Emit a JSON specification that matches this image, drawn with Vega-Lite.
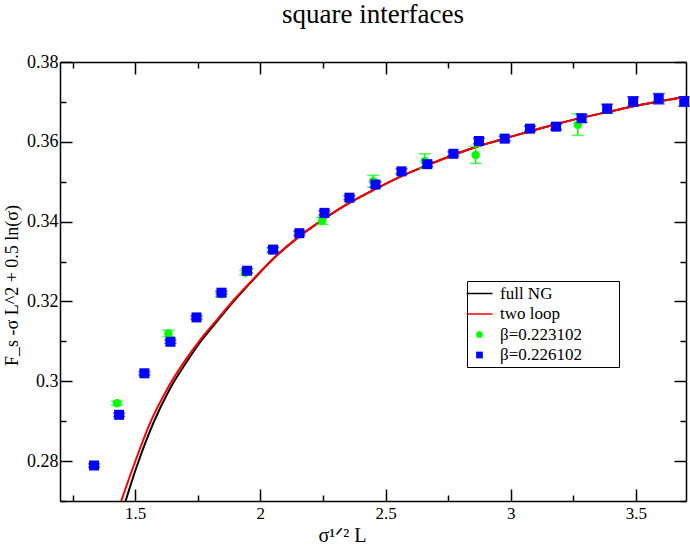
{
  "$schema": "https://vega.github.io/schema/vega-lite/v6.json",
  "autosize": {"type": "none"},
  "padding": {"left": 60, "top": 62, "right": 4, "bottom": 44},
  "width": 626,
  "height": 439,
  "title": {
    "text": "square interfaces",
    "font": "Liberation Serif",
    "fontSize": 27,
    "fontWeight": "normal",
    "color": "black",
    "anchor": "middle",
    "baseline": "bottom",
    "offset": 6,
    "dy": 9
  },
  "config": {
    "font": "Liberation Serif",
    "view": {"stroke": null},
    "axis": {
      "grid": false,
      "domainColor": "black",
      "domainWidth": 1.5,
      "tickColor": "black",
      "tickWidth": 1.5,
      "labelFont": "Liberation Serif",
      "labelColor": "black",
      "labelOverlap": false,
      "labelFlush": false,
      "titleFont": "Liberation Serif",
      "titleColor": "black",
      "titleFontWeight": "normal"
    }
  },
  "datasets": {
    "curves": [
      {"series": "full NG", "x": 1.462, "y": 0.2700},
      {"series": "full NG", "x": 1.5067, "y": 0.2787},
      {"series": "full NG", "x": 1.573, "y": 0.2896},
      {"series": "full NG", "x": 1.637, "y": 0.2979},
      {"series": "full NG", "x": 1.703, "y": 0.3046},
      {"series": "full NG", "x": 1.767, "y": 0.3104},
      {"series": "full NG", "x": 1.832, "y": 0.3154},
      {"series": "full NG", "x": 1.897, "y": 0.3203},
      {"series": "full NG", "x": 1.962, "y": 0.3248},
      {"series": "full NG", "x": 2.06, "y": 0.3312},
      {"series": "full NG", "x": 2.16, "y": 0.3365},
      {"series": "full NG", "x": 2.25, "y": 0.3405},
      {"series": "full NG", "x": 2.35, "y": 0.3445},
      {"series": "full NG", "x": 2.46, "y": 0.3482},
      {"series": "full NG", "x": 2.56, "y": 0.3513},
      {"series": "full NG", "x": 2.67, "y": 0.3542},
      {"series": "full NG", "x": 2.77, "y": 0.3567},
      {"series": "full NG", "x": 2.87, "y": 0.3589},
      {"series": "full NG", "x": 2.98, "y": 0.3609},
      {"series": "full NG", "x": 3.08, "y": 0.3627},
      {"series": "full NG", "x": 3.18, "y": 0.3644},
      {"series": "full NG", "x": 3.28, "y": 0.3660},
      {"series": "full NG", "x": 3.39, "y": 0.3675},
      {"series": "full NG", "x": 3.49, "y": 0.3689},
      {"series": "full NG", "x": 3.59, "y": 0.3701},
      {"series": "full NG", "x": 3.70, "y": 0.3713},
      {"series": "two loop", "x": 1.4445, "y": 0.2700},
      {"series": "two loop", "x": 1.4933, "y": 0.2787},
      {"series": "two loop", "x": 1.56, "y": 0.2896},
      {"series": "two loop", "x": 1.6267, "y": 0.2979},
      {"series": "two loop", "x": 1.693, "y": 0.3046},
      {"series": "two loop", "x": 1.76, "y": 0.3104},
      {"series": "two loop", "x": 1.8267, "y": 0.3154},
      {"series": "two loop", "x": 1.893, "y": 0.3203},
      {"series": "two loop", "x": 1.96, "y": 0.3248},
      {"series": "two loop", "x": 2.06, "y": 0.3312},
      {"series": "two loop", "x": 2.16, "y": 0.3365},
      {"series": "two loop", "x": 2.25, "y": 0.3405},
      {"series": "two loop", "x": 2.35, "y": 0.3445},
      {"series": "two loop", "x": 2.46, "y": 0.3482},
      {"series": "two loop", "x": 2.56, "y": 0.3513},
      {"series": "two loop", "x": 2.67, "y": 0.3542},
      {"series": "two loop", "x": 2.77, "y": 0.3567},
      {"series": "two loop", "x": 2.87, "y": 0.3589},
      {"series": "two loop", "x": 2.98, "y": 0.3609},
      {"series": "two loop", "x": 3.08, "y": 0.3627},
      {"series": "two loop", "x": 3.18, "y": 0.3644},
      {"series": "two loop", "x": 3.28, "y": 0.3660},
      {"series": "two loop", "x": 3.39, "y": 0.3675},
      {"series": "two loop", "x": 3.49, "y": 0.3689},
      {"series": "two loop", "x": 3.59, "y": 0.3701},
      {"series": "two loop", "x": 3.70, "y": 0.3713}
    ],
    "points": [
      {"series": "β=0.223102", "x": 1.428, "y": 0.2945, "lo": 0.2940, "hi": 0.2950},
      {"series": "β=0.223102", "x": 1.633, "y": 0.3120, "lo": 0.3112, "hi": 0.3128},
      {"series": "β=0.223102", "x": 1.843, "y": 0.3218, "lo": 0.3212, "hi": 0.3224},
      {"series": "β=0.223102", "x": 1.940, "y": 0.3272, "lo": 0.3266, "hi": 0.3278},
      {"series": "β=0.223102", "x": 2.047, "y": 0.3328, "lo": 0.3322, "hi": 0.3334},
      {"series": "β=0.223102", "x": 2.247, "y": 0.3402, "lo": 0.3393, "hi": 0.3411},
      {"series": "β=0.223102", "x": 2.451, "y": 0.3501, "lo": 0.3486, "hi": 0.3516},
      {"series": "β=0.223102", "x": 2.657, "y": 0.3552, "lo": 0.3534, "hi": 0.3570},
      {"series": "β=0.223102", "x": 2.860, "y": 0.3567, "lo": 0.3546, "hi": 0.3588},
      {"series": "β=0.223102", "x": 3.268, "y": 0.3643, "lo": 0.3616, "hi": 0.3670},
      {"series": "β=0.226102", "x": 1.336, "y": 0.2789, "lo": 0.2785, "hi": 0.2793},
      {"series": "β=0.226102", "x": 1.436, "y": 0.2916, "lo": 0.2912, "hi": 0.2920},
      {"series": "β=0.226102", "x": 1.537, "y": 0.3020, "lo": 0.3016, "hi": 0.3024},
      {"series": "β=0.226102", "x": 1.641, "y": 0.3099, "lo": 0.3095, "hi": 0.3103},
      {"series": "β=0.226102", "x": 1.745, "y": 0.3160, "lo": 0.3156, "hi": 0.3164},
      {"series": "β=0.226102", "x": 1.845, "y": 0.3222, "lo": 0.3218, "hi": 0.3226},
      {"series": "β=0.226102", "x": 1.947, "y": 0.3277, "lo": 0.3272, "hi": 0.3282},
      {"series": "β=0.226102", "x": 2.051, "y": 0.3330, "lo": 0.3325, "hi": 0.3335},
      {"series": "β=0.226102", "x": 2.156, "y": 0.3371, "lo": 0.3366, "hi": 0.3376},
      {"series": "β=0.226102", "x": 2.256, "y": 0.3422, "lo": 0.3417, "hi": 0.3427},
      {"series": "β=0.226102", "x": 2.356, "y": 0.3460, "lo": 0.3455, "hi": 0.3465},
      {"series": "β=0.226102", "x": 2.460, "y": 0.3493, "lo": 0.3487, "hi": 0.3499},
      {"series": "β=0.226102", "x": 2.564, "y": 0.3526, "lo": 0.3520, "hi": 0.3532},
      {"series": "β=0.226102", "x": 2.667, "y": 0.3544, "lo": 0.3538, "hi": 0.3550},
      {"series": "β=0.226102", "x": 2.771, "y": 0.3570, "lo": 0.3565, "hi": 0.3575},
      {"series": "β=0.226102", "x": 2.873, "y": 0.3602, "lo": 0.3595, "hi": 0.3609},
      {"series": "β=0.226102", "x": 2.976, "y": 0.3608, "lo": 0.3602, "hi": 0.3614},
      {"series": "β=0.226102", "x": 3.077, "y": 0.3633, "lo": 0.3627, "hi": 0.3639},
      {"series": "β=0.226102", "x": 3.181, "y": 0.3638, "lo": 0.3631, "hi": 0.3645},
      {"series": "β=0.226102", "x": 3.283, "y": 0.3659, "lo": 0.3649, "hi": 0.3669},
      {"series": "β=0.226102", "x": 3.385, "y": 0.3683, "lo": 0.3672, "hi": 0.3694},
      {"series": "β=0.226102", "x": 3.489, "y": 0.3701, "lo": 0.3689, "hi": 0.3713},
      {"series": "β=0.226102", "x": 3.591, "y": 0.3708, "lo": 0.3695, "hi": 0.3721},
      {"series": "β=0.226102", "x": 3.693, "y": 0.3701, "lo": 0.3689, "hi": 0.3713}
    ]
  },
  "encoding": {
    "color": {
      "field": "series",
      "type": "nominal",
      "scale": {
        "domain": ["full NG", "two loop", "β=0.223102", "β=0.226102"],
        "range": ["#000000", "#ff0000", "#00ff00", "#0000ff"]
      },
      "legend": {
        "title": "\u2800",
        "titleOrient": "right",
        "titlePadding": 30,
        "titleFontSize": 4,
        "titleColor": "white",
        "orient": "none",
        "legendX": 407,
        "legendY": 219,
        "strokeColor": "black",
        "fillColor": "white",
        "padding": 4,
        "rowPadding": 2.5,
        "labelFont": "Liberation Serif",
        "labelFontSize": 17,
        "labelColor": "black",
        "labelOffset": 12,
        "symbolSize": 676,
        "symbolStrokeWidth": 1.5,
        "encode": {
          "symbols": {
            "update": {
              "shape": {"signal": "datum.value === 'full NG' || datum.value === 'two loop' ? 'stroke' : (datum.value === 'β=0.223102' ? 'circle' : 'square')"},
              "size": {"signal": "datum.value === 'full NG' || datum.value === 'two loop' ? 676 : 45"},
              "stroke": {"scale": "color", "field": "value"},
              "fill": {"scale": "color", "field": "value"},
              "strokeWidth": {"signal": "datum.value === 'full NG' || datum.value === 'two loop' ? 1.5 : 0"},
              "opacity": {"value": 1}
            }
          }
        }
      }
    }
  },
  "layer": [
    {
      "data": {"name": "curves"},
      "mark": {"type": "line", "strokeWidth": 2, "interpolate": "monotone"},
      "encoding": {
        "x": {
          "field": "x",
          "type": "quantitative",
          "scale": {"domain": [1.2, 3.7], "nice": false, "zero": false},
          "axis": {
            "orient": "bottom",
            "values": [1.25, 1.5, 1.75, 2, 2.25, 2.5, 2.75, 3, 3.25, 3.5],
            "format": "~g",
            "labelExpr": "datum.value % 0.5 === 0 ? datum.label : ''",
            "tickSize": {"condition": {"test": "datum.value % 0.5 === 0", "value": -12}, "value": -6},
            "labelPadding": 16,
            "labelFontSize": 17,
            "title": "σ¹ᐟ² L",
            "titleFontSize": 20,
            "titleX": 282,
            "titleY": 40,
            "titleBaseline": "alphabetic"
          }
        },
        "y": {
          "field": "y",
          "type": "quantitative",
          "scale": {"domain": [0.27, 0.38], "nice": false, "zero": false},
          "axis": {
            "orient": "left",
            "values": [0.27, 0.28, 0.29, 0.3, 0.31, 0.32, 0.33, 0.34, 0.35, 0.36, 0.37, 0.38],
            "format": "~g",
            "labelExpr": "round(datum.value * 100) % 2 === 0 ? datum.label : ''",
            "tickSize": {"condition": {"test": "round(datum.value * 100) % 2 === 0", "value": -12}, "value": -6},
            "labelPadding": 14,
            "labelFontSize": 18,
            "title": "F_s -σ L^2 + 0.5 ln(σ)",
            "titleFontSize": 18,
            "titleX": -48,
            "titleY": 223,
            "titleBaseline": "middle"
          }
        }
      }
    },
    {
      "data": {"name": "points"},
      "mark": {"type": "rule", "strokeWidth": 1.5},
      "encoding": {
        "x": {
          "field": "x",
          "type": "quantitative",
          "scale": {"domain": [1.2, 3.7], "nice": false, "zero": false},
          "axis": {
            "orient": "top",
            "values": [1.25, 1.5, 1.75, 2, 2.25, 2.5, 2.75, 3, 3.25, 3.5],
            "labels": false,
            "title": null,
            "tickSize": {"condition": {"test": "datum.value % 0.5 === 0", "value": -12}, "value": -6}
          }
        },
        "y": {
          "field": "lo",
          "type": "quantitative",
          "scale": {"domain": [0.27, 0.38], "nice": false, "zero": false},
          "axis": {
            "orient": "right",
            "values": [0.27, 0.28, 0.29, 0.3, 0.31, 0.32, 0.33, 0.34, 0.35, 0.36, 0.37, 0.38],
            "labels": false,
            "title": null,
            "tickSize": {"condition": {"test": "round(datum.value * 100) % 2 === 0", "value": -12}, "value": -6}
          }
        },
        "y2": {"field": "hi"}
      }
    },
    {
      "data": {"name": "points"},
      "mark": {"type": "tick", "orient": "horizontal", "size": 12, "thickness": 1.5},
      "encoding": {
        "x": {"field": "x", "type": "quantitative", "scale": {"domain": [1.2, 3.7], "nice": false, "zero": false}, "axis": null},
        "y": {"field": "lo", "type": "quantitative", "scale": {"domain": [0.27, 0.38], "nice": false, "zero": false}, "axis": null}
      }
    },
    {
      "data": {"name": "points"},
      "mark": {"type": "tick", "orient": "horizontal", "size": 12, "thickness": 1.5},
      "encoding": {
        "x": {"field": "x", "type": "quantitative", "scale": {"domain": [1.2, 3.7], "nice": false, "zero": false}, "axis": null},
        "y": {"field": "hi", "type": "quantitative", "scale": {"domain": [0.27, 0.38], "nice": false, "zero": false}, "axis": null}
      }
    },
    {
      "data": {"name": "points"},
      "mark": {"type": "point", "filled": true, "opacity": 1},
      "encoding": {
        "x": {"field": "x", "type": "quantitative", "scale": {"domain": [1.2, 3.7], "nice": false, "zero": false}, "axis": null},
        "y": {"field": "y", "type": "quantitative", "scale": {"domain": [0.27, 0.38], "nice": false, "zero": false}, "axis": null},
        "shape": {
          "field": "series",
          "type": "nominal",
          "scale": {"domain": ["β=0.223102", "β=0.226102"], "range": ["circle", "square"]},
          "legend": null
        },
        "size": {
          "field": "series",
          "type": "ordinal",
          "scale": {"domain": ["β=0.223102", "β=0.226102"], "range": [72, 100]},
          "legend": null
        }
      }
    }
  ],
  "resolve": {"axis": {"x": "independent", "y": "independent"}}
}
